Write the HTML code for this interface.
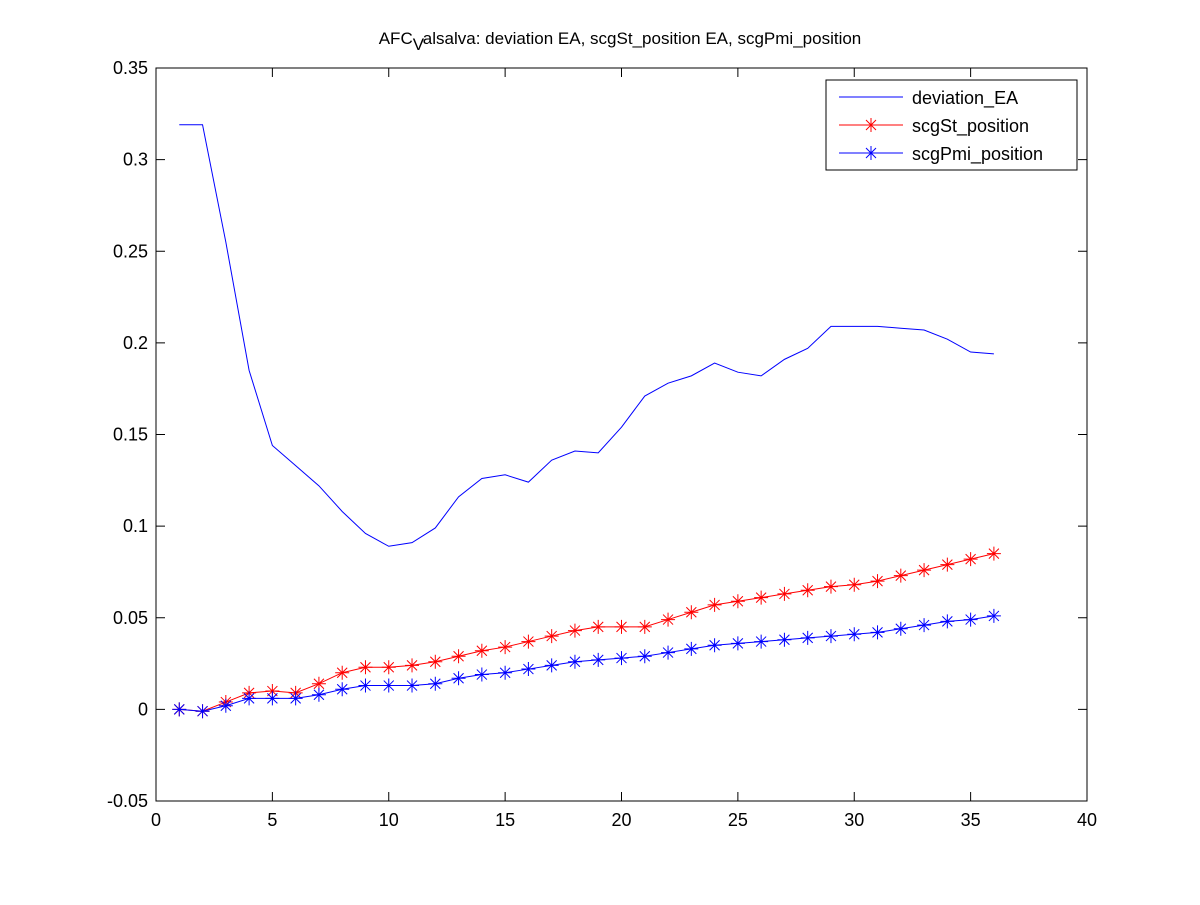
<!DOCTYPE html>
<html><head><meta charset="utf-8"><style>
body{margin:0;background:#fff;}
svg text{font-family:"Liberation Sans",Arial,sans-serif;}
</style></head><body>
<svg id="chart" width="1200" height="900" xmlns="http://www.w3.org/2000/svg">
<rect width="1200" height="900" fill="#fff"/>
<text x="620" y="44" text-anchor="middle" font-size="17">AFC<tspan dy="6" font-size="17">V</tspan><tspan dy="-6">alsalva: deviation EA, scgSt_position EA, scgPmi_position</tspan></text>
<g id="axes"></g>
<g id="series"></g>
<g>
<rect x="826" y="80" width="251" height="90" fill="#fff" stroke="#000" stroke-width="1"/>
<g>
<line x1="839" y1="97" x2="903" y2="97" stroke="#00f"/>
<text x="912" y="104" font-size="18">deviation_EA</text></g>
<g>
<line x1="839" y1="125" x2="903" y2="125" stroke="#f00"/>
<path d="M864 125H878M871 118V132M866 120L876 130M866 130L876 120" stroke="#f00" fill="none"/>
<text x="912" y="132" font-size="18">scgSt_position</text></g>
<g>
<line x1="839" y1="153" x2="903" y2="153" stroke="#00f"/>
<path d="M864 153H878M871 146V160M866 148L876 158M866 158L876 148" stroke="#00f" fill="none"/>
<text x="912" y="160" font-size="18">scgPmi_position</text></g>
</g>
</svg>
<script>
const xTicks=[0,5,10,15,20,25,30,35,40];
const yTicks=[-0.05,0,0.05,0.1,0.15,0.2,0.25,0.3,0.35];
const yTickLabels=["-0.05","0","0.05","0.1","0.15","0.2","0.25","0.3","0.35"];
const deviationEA=[0.319,0.319,0.255,0.185,0.144,0.133,0.122,0.108,0.096,0.089,0.091,0.099,0.116,0.126,0.128,0.124,0.136,0.141,0.140,0.154,0.171,0.178,0.182,0.189,0.184,0.182,0.191,0.197,0.209,0.209,0.209,0.208,0.207,0.202,0.195,0.194];
const scgSt=[0,-0.001,0.004,0.009,0.010,0.009,0.014,0.020,0.023,0.023,0.024,0.026,0.029,0.032,0.034,0.037,0.040,0.043,0.045,0.045,0.045,0.049,0.053,0.057,0.059,0.061,0.063,0.065,0.067,0.068,0.070,0.073,0.076,0.079,0.082,0.085];
const scgPmi=[0,-0.001,0.002,0.006,0.006,0.006,0.008,0.011,0.013,0.013,0.013,0.014,0.017,0.019,0.020,0.022,0.024,0.026,0.027,0.028,0.029,0.031,0.033,0.035,0.036,0.037,0.038,0.039,0.040,0.041,0.042,0.044,0.046,0.048,0.049,0.051];
const L=156,R=1087,T=68,B=801;
const X=v=>L+(v-0)/(40-0)*(R-L);
const Y=v=>B-(v+0.05)/(0.40)*(B-T);
const NS="http://www.w3.org/2000/svg";
function mk(tag,attrs,parent){const e=document.createElementNS(NS,tag);for(const k in attrs)e.setAttribute(k,attrs[k]);parent.appendChild(e);return e;}
const ax=document.getElementById('axes');
const frame=mk('rect',{x:L,y:T,width:R-L,height:B-T,fill:'none',stroke:'#000'},ax);


xTicks.forEach(t=>{
  const x=X(t);
  mk('line',{x1:x,y1:B,x2:x,y2:B-9,stroke:'#000'},ax);
  mk('line',{x1:x,y1:T,x2:x,y2:T+9,stroke:'#000'},ax);
  const tx=mk('text',{x:x,y:B+25,'text-anchor':'middle','font-size':'18'},ax);
  tx.textContent=t;
  
  
});
yTicks.forEach((t,i)=>{
  const y=Y(t);
  mk('line',{x1:L,y1:y,x2:L+9,y2:y,stroke:'#000'},ax);
  mk('line',{x1:R,y1:y,x2:R-9,y2:y,stroke:'#000'},ax);
  const tx=mk('text',{x:L-8,y:y+6,'text-anchor':'end','font-size':'18'},ax);
  tx.textContent=yTickLabels[i];
  
  
});
const sg=document.getElementById('series');
function line(data,color,name,markers){
  const g=mk('g',{},sg);
  
  
  const pts=data.map((v,i)=>X(i+1)+','+Y(v)).join(' ');
  mk('polyline',{points:pts,fill:'none',stroke:color,'stroke-width':'1'},g);
  if(markers){data.forEach((v,i)=>{
    const cx=X(i+1),cy=Y(v),r=7,d=5;
    const p=mk('path',{d:`M${cx-r} ${cy}H${cx+r}M${cx} ${cy-r}V${cy+r}M${cx-d} ${cy-d}L${cx+d} ${cy+d}M${cx-d} ${cy+d}L${cx+d} ${cy-d}`,stroke:color,'stroke-width':'1',fill:'none'},g);
    
    
  });}
}
line(deviationEA,'#00f','series-deviation-ea',false);
line(scgSt,'#f00','series-scgst-position',true);
line(scgPmi,'#00f','series-scgpmi-position',true);
</script>
</body></html>
